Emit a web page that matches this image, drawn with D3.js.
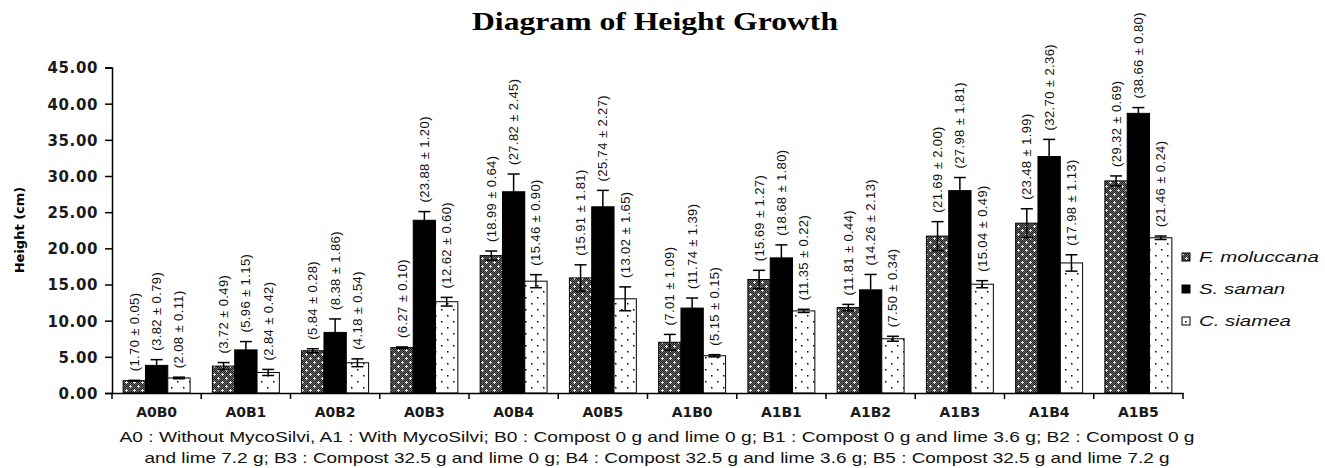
<!DOCTYPE html>
<html>
<head>
<meta charset="utf-8">
<script src="https://cdn.jsdelivr.net/npm/d3@7/dist/d3.min.js"></script>
<style>
  html, body { margin: 0; padding: 0; background: #fff; }
</style>
</head>
<body>
<div id="canvas"></div>
<script>
"use strict";

// Data
const categories = ["A0B0", "A0B1", "A0B2", "A0B3", "A0B4", "A0B5",
                    "A1B0", "A1B1", "A1B2", "A1B3", "A1B4", "A1B5"];
const seriesNames = ["F. moluccana", "S. saman", "C. siamea"];

const moluccana    = [1.70, 3.72, 5.84, 6.27, 18.99, 15.91, 7.01, 15.69, 11.81, 21.69, 23.48, 29.32];
const moluccanaErr = [0.05, 0.49, 0.28, 0.10, 0.64, 1.81, 1.09, 1.27, 0.44, 2.00, 1.99, 0.69];
const saman        = [3.82, 5.96, 8.38, 23.88, 27.82, 25.74, 11.74, 18.68, 14.26, 27.98, 32.70, 38.66];
const samanErr     = [0.79, 1.15, 1.86, 1.20, 2.45, 2.27, 1.39, 1.80, 2.13, 1.81, 2.36, 0.80];
const siamea       = [2.08, 2.84, 4.18, 12.62, 15.46, 13.02, 5.15, 11.35, 7.50, 15.04, 17.98, 21.46];
const siameaErr    = [0.11, 0.42, 0.54, 0.60, 0.90, 1.65, 0.15, 0.22, 0.34, 0.49, 1.13, 0.24];

const yTicks = [0, 5, 10, 15, 20, 25, 30, 35, 40, 45];

const footnote = [
  "A0 : Without MycoSilvi, A1 : With MycoSilvi; B0 : Compost 0 g and lime 0 g; B1 : Compost 0 g and lime 3.6 g; B2 : Compost  0 g",
  "and lime 7.2 g; B3 : Compost 32.5 g and lime 0 g; B4 : Compost 32.5 g and lime 3.6 g; B5 : Compost 32.5 g and lime 7.2 g"
];

const values = [moluccana, saman, siamea];
const errors = [moluccanaErr, samanErr, siameaErr];
const fills = ["url(#patF)", "#000", "url(#patC)"];

const rows = [];
categories.forEach(function (c, i) {
  seriesNames.forEach(function (s, k) {
    rows.push({ cat: c, series: s, k: k, v: values[k][i], e: errors[k][i] });
  });
});

const W = 1325, H = 468;
const svg = d3.select("#canvas").append("svg")
  .attr("width", W)
  .attr("height", H);

// Patterns
const defs = svg.append("defs");

const pf = defs.append("pattern")
  .attr("id", "patF")
  .attr("patternUnits", "userSpaceOnUse")
  .attr("width", 8).attr("height", 8);
pf.append("rect").attr("width", 8).attr("height", 8).attr("fill", "#6a6a6a");
for (let i = 0; i < 8; i++) {
  for (let j = 0; j < 8; j++) {
    if ((i + j) % 2 === 0) {
      pf.append("rect").attr("x", i).attr("y", j).attr("width", 1).attr("height", 1).attr("fill", "#222");
    }
  }
}
[[2, 2], [6, 6]].forEach(function (p) {
  pf.append("rect").attr("x", p[0] - 1).attr("y", p[1]).attr("width", 3).attr("height", 1).attr("fill", "#eee");
  pf.append("rect").attr("x", p[0]).attr("y", p[1] - 1).attr("width", 1).attr("height", 3).attr("fill", "#eee");
});

const pc = defs.append("pattern")
  .attr("id", "patC")
  .attr("patternUnits", "userSpaceOnUse")
  .attr("width", 12).attr("height", 12);
pc.append("rect").attr("width", 12).attr("height", 12).attr("fill", "#fff");
pc.append("rect").attr("x", 3).attr("y", 3).attr("width", 1.5).attr("height", 1.5).attr("fill", "#000");
pc.append("rect").attr("x", 9).attr("y", 9).attr("width", 1.5).attr("height", 1.5).attr("fill", "#000");

// Scales
const x0 = d3.scaleBand().domain(categories).range([112, 1183]);
const x1 = d3.scaleBand().domain(seriesNames).range([0, x0.bandwidth()]).paddingOuter(0.5);
const y = d3.scaleLinear().domain([0, 45]).range([393, 67.5]);

// Title
svg.append("text")
  .attr("x", 655).attr("y", 30)
  .attr("text-anchor", "middle")
  .attr("font-family", "'Liberation Serif', 'Times New Roman', serif")
  .attr("font-weight", "bold")
  .attr("font-size", 25)
  .attr("textLength", 366)
  .attr("lengthAdjust", "spacingAndGlyphs")
  .text("Diagram of Height Growth");

// Bars
const g = svg.append("g");
g.selectAll("rect.bar")
  .data(rows)
  .join("rect")
  .attr("class", "bar")
  .attr("x", d => x0(d.cat) + x1(d.series))
  .attr("y", d => y(d.v))
  .attr("width", x1.bandwidth())
  .attr("height", d => y(0) - y(d.v))
  .attr("fill", d => fills[d.k])
  .attr("stroke", "#000")
  .attr("stroke-width", 1);

// Error bars
const eb = g.selectAll("g.err")
  .data(rows)
  .join("g")
  .attr("class", "err")
  .attr("stroke", "#000")
  .attr("stroke-width", 1.5);
const cx = d => x0(d.cat) + x1(d.series) + x1.bandwidth() / 2;
eb.append("line")
  .attr("x1", cx).attr("x2", cx)
  .attr("y1", d => y(d.v - d.e)).attr("y2", d => y(d.v + d.e));
eb.append("line")
  .attr("x1", d => cx(d) - 6).attr("x2", d => cx(d) + 6)
  .attr("y1", d => y(d.v + d.e)).attr("y2", d => y(d.v + d.e));
eb.append("line")
  .attr("x1", d => cx(d) - 6).attr("x2", d => cx(d) + 6)
  .attr("y1", d => y(d.v - d.e)).attr("y2", d => y(d.v - d.e));

// Value labels (rotated)
g.selectAll("text.lbl")
  .data(rows)
  .join("text")
  .attr("class", "lbl")
  .attr("transform", d => "translate(" + (cx(d) + 4.5) + "," + (y(d.v + d.e) - 9) + ") rotate(-90)")
  .attr("font-family", "'Liberation Sans', Arial, sans-serif")
  .attr("font-size", 13)
  .attr("letter-spacing", 0.4)
  .attr("fill", "#111")
  .text(d => "(" + d.v.toFixed(2) + " \u00b1 " + d.e.toFixed(2) + ")");

// Y axis
const yAxis = svg.append("g")
  .attr("transform", "translate(112,0)")
  .call(d3.axisLeft(y).tickValues(yTicks).tickSize(7).tickFormat(d3.format(".2f")));
yAxis.select(".domain").attr("stroke", "#000").attr("stroke-width", 1.5);
yAxis.selectAll(".tick line").attr("stroke", "#000").attr("stroke-width", 1.5);
yAxis.selectAll(".tick text")
  .attr("x", -14)
  .attr("dy", "0.36em")
  .attr("fill", "#1a1a1a")
  .attr("font-family", "'DejaVu Sans', Verdana, sans-serif")
  .attr("font-weight", "bold")
  .attr("font-size", 15)
  .attr("letter-spacing", 0.6);

// X axis
const xAxis = svg.append("g")
  .attr("transform", "translate(0,393)")
  .call(d3.axisBottom(x0).tickSize(0));
xAxis.select(".domain").attr("stroke", "#000").attr("stroke-width", 1.5);
xAxis.selectAll(".tick text")
  .attr("y", 14)
  .attr("fill", "#1a1a1a")
  .attr("font-family", "'DejaVu Sans', Verdana, sans-serif")
  .attr("font-weight", "bold")
  .attr("font-size", 14);
// boundary ticks between groups
xAxis.selectAll("line.sep")
  .data(categories.concat(["end"]))
  .join("line")
  .attr("class", "sep")
  .attr("x1", (d, i) => i < categories.length ? x0(d) : x0.range()[1])
  .attr("x2", (d, i) => i < categories.length ? x0(d) : x0.range()[1])
  .attr("y1", 0).attr("y2", 6)
  .attr("stroke", "#000").attr("stroke-width", 1.5);

// Y axis label
svg.append("text")
  .attr("transform", "translate(24,230) rotate(-90)")
  .attr("text-anchor", "middle")
  .attr("font-family", "'DejaVu Sans', Verdana, sans-serif")
  .attr("font-weight", "bold")
  .attr("font-size", 13)
  .text("Height (cm)");

// Legend
const legend = svg.append("g");
seriesNames.forEach(function (s, k) {
  const ly = 257 + k * 32;
  legend.append("rect")
    .attr("x", 1182).attr("y", ly - 4)
    .attr("width", 8).attr("height", 8)
    .attr("fill", fills[k])
    .attr("stroke", "#000");
  const t = legend.append("text")
    .attr("x", 1199).attr("y", ly + 5)
    .attr("font-family", "'Liberation Sans', Arial, sans-serif")
    .attr("font-style", "italic")
    .attr("font-size", 15)
    .attr("fill", "#111")
    .text(s);
  // the source figure is stretched sideways
  t.attr("textLength", t.node().getComputedTextLength() * 1.36)
    .attr("lengthAdjust", "spacingAndGlyphs");
});

// Footnote
svg.selectAll("text.note")
  .data(footnote)
  .join("text")
  .attr("class", "note")
  .attr("x", 657)
  .attr("y", (d, i) => 442 + i * 21)
  .attr("text-anchor", "middle")
  .attr("font-family", "'Liberation Sans', Arial, sans-serif")
  .attr("font-size", 15)
  .attr("textLength", (d, i) => i === 0 ? 1075 : 1025)
  .attr("lengthAdjust", "spacingAndGlyphs")
  .attr("fill", "#111")
  .text(d => d);
</script>
</body>
</html>
